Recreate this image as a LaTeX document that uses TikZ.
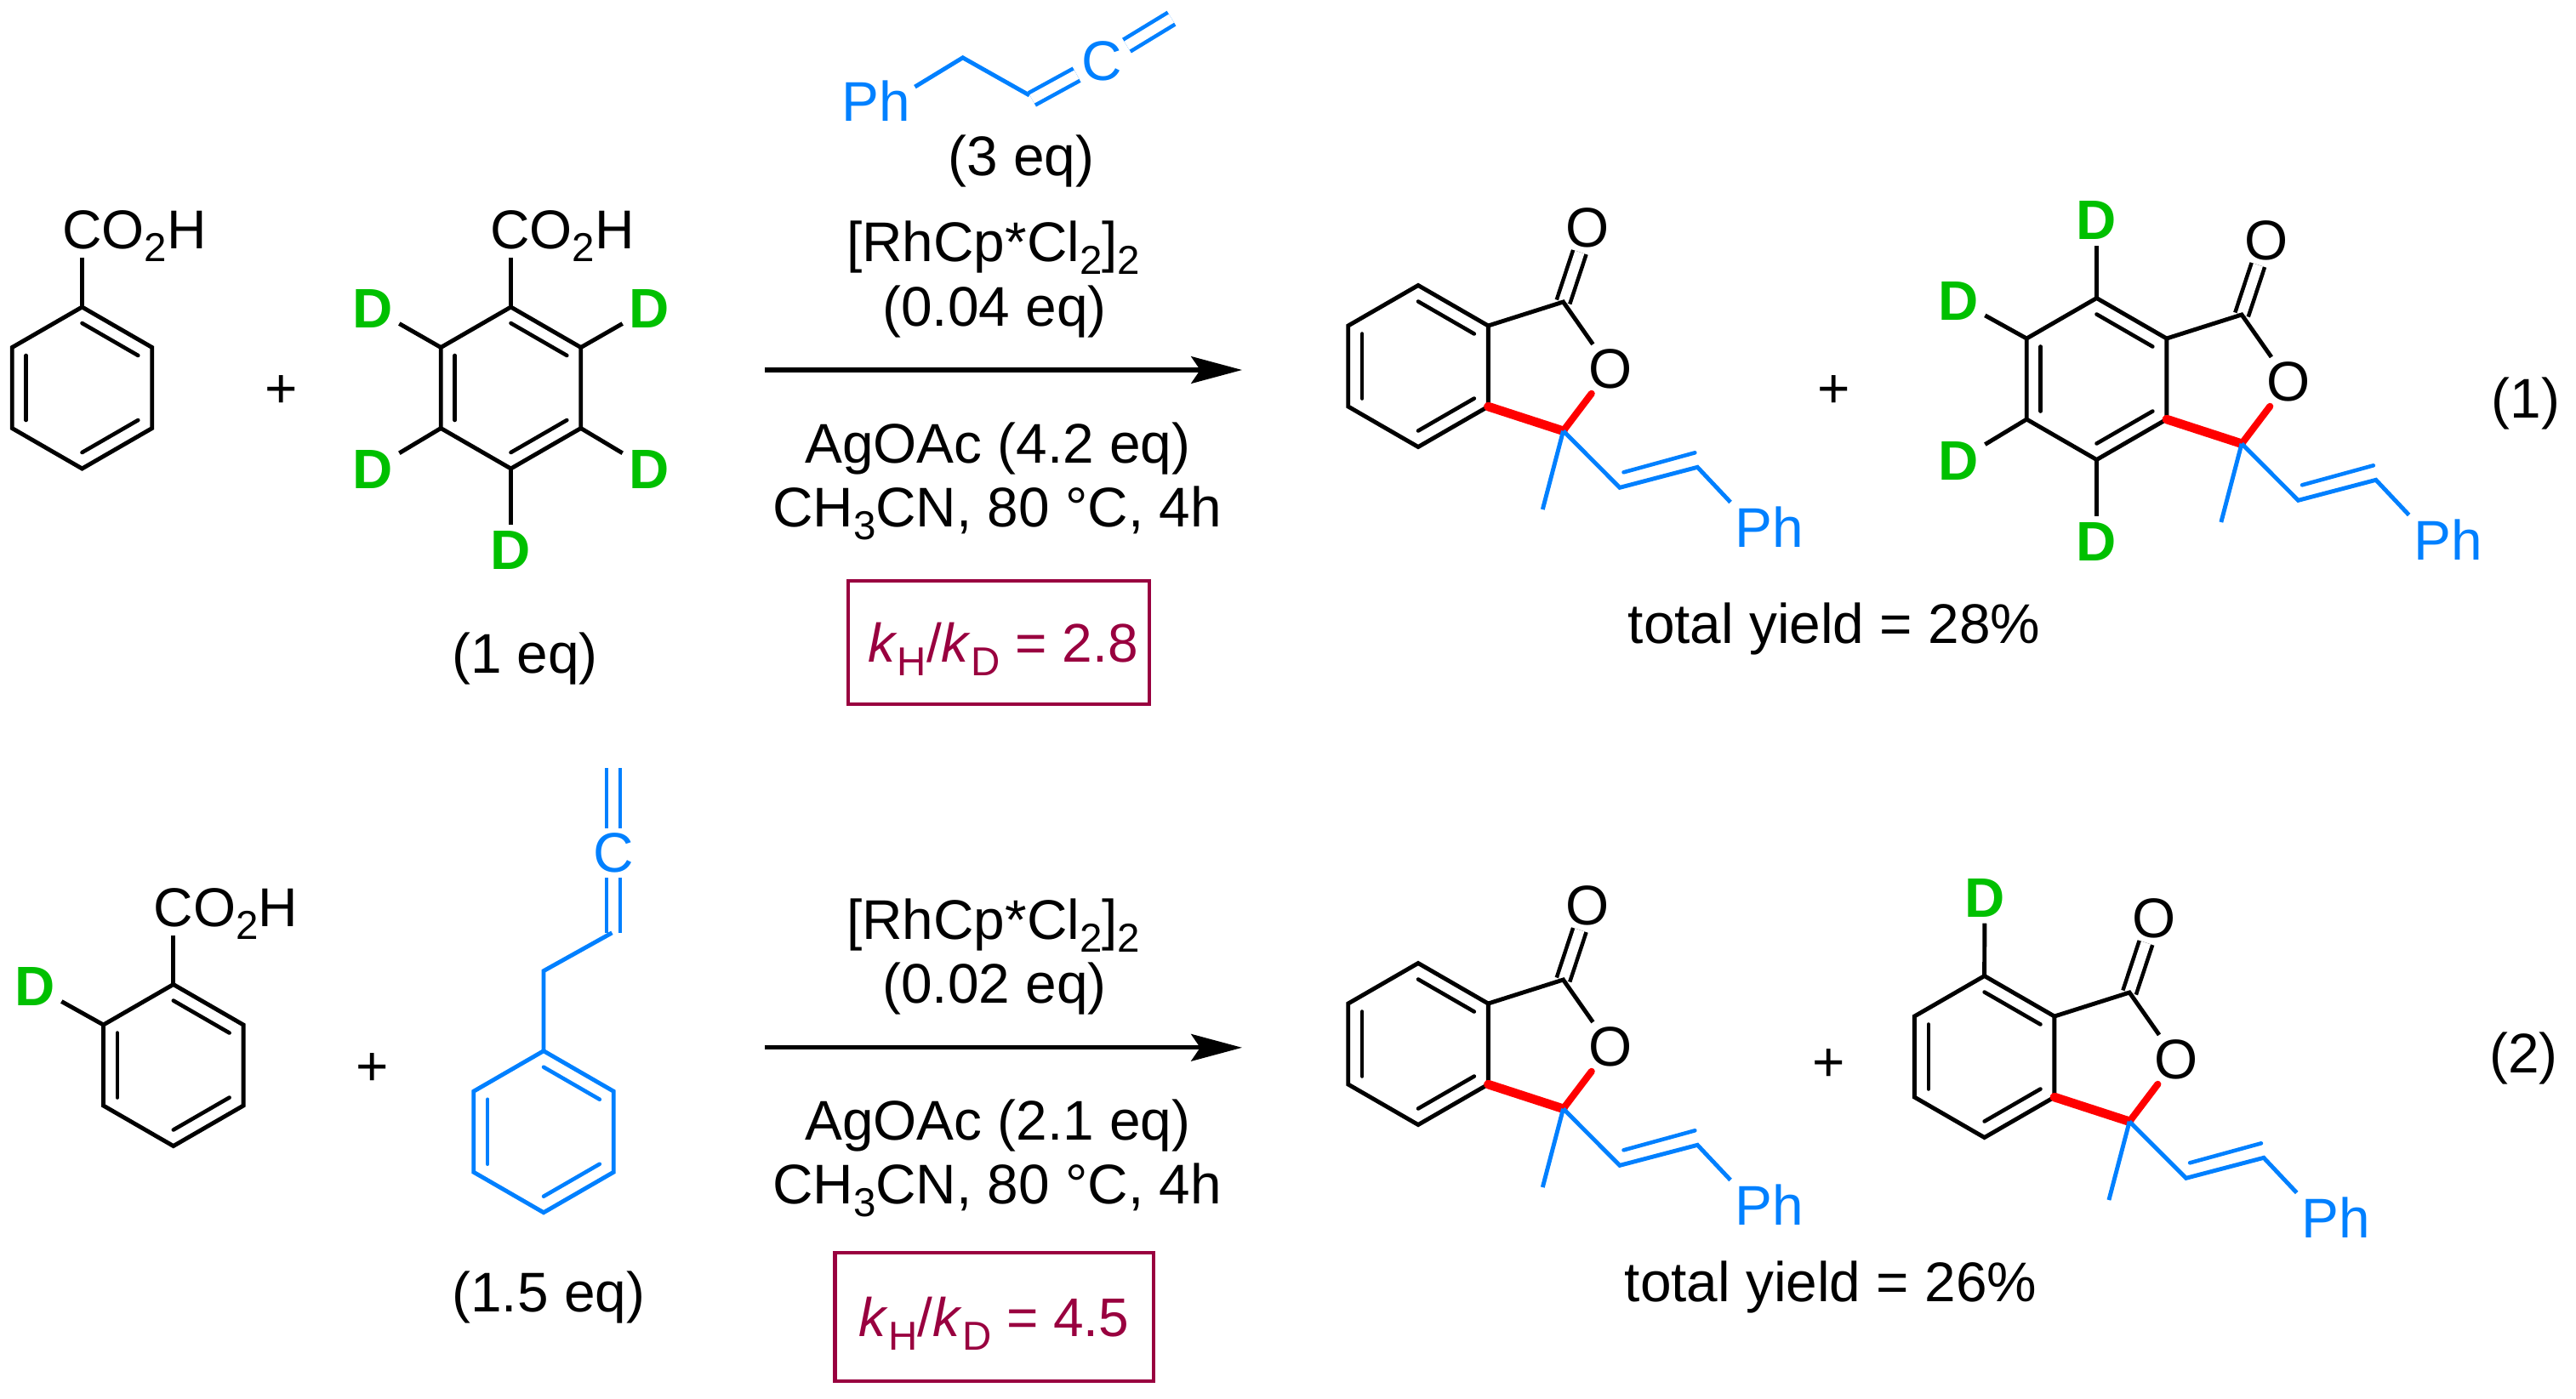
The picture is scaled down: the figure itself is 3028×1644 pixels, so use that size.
\documentclass[tikz,border=0pt]{standalone}
\usepackage{fontspec}
\setmainfont{Liberation Sans}
\usetikzlibrary{arrows.meta,calc}

\definecolor{chemblue}{HTML}{0080FF}
\definecolor{chemgreen}{HTML}{00C000}
\definecolor{kiecolor}{HTML}{99003F}

\newcommand{\lowidx}[1]{\raisebox{-0.24em}{\fontsize{13.5}{14}\selectfont #1}}
\newcommand{\benzring}[3]{%
	\foreach \i/\a in {1/-90,2/-30,3/30,4/90,5/150,6/210} {
		\coordinate (#1\i) at ($(#2)+(\a:95)$);
		\coordinate (#1i\i) at ($(#2)+(\a:76)$);
	}
	\draw[bond,#3] (#11) -- (#12) -- (#13) -- (#14) -- (#15) -- (#16) -- cycle;
	\draw[innerbond,#3] (#1i1) -- (#1i2);
	\draw[innerbond,#3] (#1i3) -- (#1i4);
	\draw[innerbond,#3] (#1i5) -- (#1i6);
}

\tikzset{
	bond/.style={line width=1.4pt},
	innerbond/.style={line width=1.3pt, line cap=round},
	dblbond/.style={line width=1.3pt, double, double distance=3.3pt},
	redbond/.style={line width=3pt, red, line cap=round},
	lbl/.style={inner sep=0.05cm, anchor=base},
	atom/.style={inner sep=0.05cm},
	acid/.style={lbl, text depth=0pt, inner sep=0.1cm, font=\fontsize{18.3}{20}\selectfont},
	deut/.style={inner sep=0.07cm, text=chemgreen, font=\fontsize{18.6}{20}\selectfont\bfseries},
	kiebox/.style={draw=kiecolor, line width=1.2pt, text=kiecolor, text depth=0pt, inner sep=0pt, font=\fontsize{18.2}{20}\selectfont},
	rxnarrow/.style={line width=1.5pt, -{Stealth[length=17pt, width=9pt, inset=3pt]}}
}

\begin{document}
\begin{tikzpicture}[x=0.01cm, y=-0.01cm, font=\fontsize{18.7}{20}\selectfont]
	\useasboundingbox (0,0) rectangle (3028,1644);

	% row 1, reagents
	\benzring{a}{96.5,456}{black}
	\node[acid] (aco) at (158,292) {CO\lowidx{2}H};
	\draw[bond] (a1) -- (a1 |- aco.south);
	\node[atom] (plusa) at (331,461) {+};

	\benzring{b}{600.5,456}{black}
	\node[acid] (bco) at (661,292) {CO\lowidx{2}H};
	\node[deut] (bd1) at (438,362.6) {D};
	\node[deut] (bd2) at (763,362.6) {D};
	\node[deut] (bd3) at (438,551.5) {D};
	\node[deut] (bd4) at (763,551.5) {D};
	\node[deut] (bd5) at (600.5,647) {D};
	\draw[bond] (b1) -- (b1 |- bco.south);
	\draw[bond] (b6) -- (bd1);
	\draw[bond] (b2) -- (bd2);
	\draw[bond] (b5) -- (bd3);
	\draw[bond] (b3) -- (bd4);
	\draw[bond] (b4) -- (bd5);
	\node[lbl] (eqa) at (617,791) {(1 eq)};

	% allene above the first arrow
	\node[atom, text=chemblue] (alPh) at (1029.5,118.8) {Ph};
	\coordinate (alb) at (1131.7,67.8);
	\coordinate (alc) at (1210,112);
	\coordinate (ald) at (1213,116.4);
	\node[atom, text=chemblue] (alC) at (1295,71.5) {C};
	\coordinate (ale) at (1377,21.6);
	\draw[dblbond, chemblue] (ald) -- (alC);
	\draw[dblbond, chemblue] (alC) -- (ale);
	\draw[bond, chemblue] (alPh.20) -- (alb) -- (alc);

	\node[lbl] (eqb) at (1200.6,206) {(3 eq)};
	\node[lbl] (cata) at (1167.7,307) {[RhCp*Cl\lowidx{2}]\lowidx{2}};
	\node[lbl] (cateqa) at (1169,383) {(0.04 eq)};
	\coordinate (arra) at (899,435);
	\coordinate (arrb) at (1460,435);
	\draw[rxnarrow] (arra) -- (arrb);
	\node[lbl] (agoa) at (1172.8,544) {AgOAc (4.2 eq)};
	\node[lbl] (solva) at (1172,619) {CH\lowidx{3}CN, 80 °C, 4h};
	\node[kiebox, minimum width=3.54cm, minimum height=1.45cm] (kiea) at (1174,755.5) {\hspace*{0.1cm}\textit{k}\lowidx{H}/\textit{k}\lowidx{D} = 2.8};

	% the four lactone products
	\foreach \nm/\px/\py in {p/0/0, q/797.5/15, r/0/797, s/665.6/812} {
		\begin{scope}[shift={(\px,\py)}]
			\benzring{\nm}{1667,430.5}{black}
			\coordinate (\nm co) at (1837.5,355);
			\coordinate (\nm qc) at (1837.5,506.7);
			\node[atom] (\nm O) at (1892.7,433.8) {O};
			\node[atom] (\nm dO) at (1866.4,267.5) {O};
			\coordinate (\nm va) at (1904,573.3);
			\coordinate (\nm vb) at (1995.3,549.3);
			\coordinate (\nm me) at (1813.3,599);
			\node[atom, text=chemblue] (\nm Ph) at (2080,620) {Ph};
			\draw[dblbond] (\nm co) -- (\nm dO);
			\draw[bond] (\nm 2) -- (\nm co) -- (\nm O);
			\draw[redbond] (\nm 3) -- (\nm qc);
			\draw[redbond, line width=2.3pt] (\nm qc) -- (\nm O);
			\draw[bond, chemblue] (\nm qc) -- (\nm me);
			\draw[bond, chemblue] (\nm qc) -- (\nm va) -- (\nm vb) -- (\nm Ph.north west);
			\draw[innerbond, chemblue] ([shift={(4.5,-18)}]\nm va) -- ([shift={(-3,-17)}]\nm vb);
		\end{scope}
	}

	% deuterium on the second product
	\node[deut] (qd1) at (2464.5,259) {D};
	\node[deut] (qd2) at (2302,353.5) {D};
	\node[deut] (qd3) at (2302,541.5) {D};
	\node[deut] (qd4) at (2464.5,636.8) {D};
	\draw[bond] (q1) -- (qd1);
	\draw[bond] (q6) -- (qd2);
	\draw[bond] (q5) -- (qd3);
	\draw[bond] (q4) -- (qd4);

	\node[atom] (plusb) at (2156,461) {+};
	\node[lbl] (numa) at (2969,491) {(1)};
	\node[lbl] (yielda) at (2156,756.5) {total yield = 28\%};

	% row 2, reagents
	\benzring{c}{203.8,1252.5}{black}
	\node[acid] (cco) at (265.5,1089.5) {CO\lowidx{2}H};
	\node[deut] (cd) at (41,1160) {D};
	\draw[bond] (c1) -- (c1 |- cco.south);
	\draw[bond] (c6) -- (cd);
	\node[atom] (plusc) at (438,1257) {+};

	\benzring{e}{639,1330.7}{chemblue}
	\coordinate (eb) at (639,1141.6);
	\coordinate (ec) at (719.4,1096.8);
	\coordinate (ed) at (721,1097);
	\node[atom, text=chemblue] (eC) at (721,1003) {C};
	\coordinate (ef) at (721,903.4);
	\draw[dblbond, chemblue] (ed) -- (eC);
	\draw[dblbond, chemblue] (eC) -- (ef);
	\draw[bond, chemblue] (e1) -- (eb) -- (ec);
	\node[lbl] (eqc) at (644.8,1542) {(1.5 eq)};

	\node[lbl] (catb) at (1167.7,1104) {[RhCp*Cl\lowidx{2}]\lowidx{2}};
	\node[lbl] (cateqb) at (1169,1179.6) {(0.02 eq)};
	\coordinate (arrc) at (899,1231.8);
	\coordinate (arrd) at (1460,1231.8);
	\draw[rxnarrow] (arrc) -- (arrd);
	\node[lbl] (agob) at (1172.8,1340.4) {AgOAc (2.1 eq)};
	\node[lbl] (solvb) at (1172,1415) {CH\lowidx{3}CN, 80 °C, 4h};
	\node[kiebox, minimum width=3.74cm, minimum height=1.51cm] (kieb) at (1168.5,1548.7) {\textit{k}\lowidx{H}/\textit{k}\lowidx{D} = 4.5};

	\node[deut] (sd) at (2333,1055.5) {D};
	\draw[bond] (s1) -- (sd);

	\node[atom] (plusd) at (2150,1252.5) {+};
	\node[lbl] (numb) at (2966.6,1261) {(2)};
	\node[lbl] (yieldb) at (2152,1530) {total yield = 26\%};
\end{tikzpicture}
\end{document}
